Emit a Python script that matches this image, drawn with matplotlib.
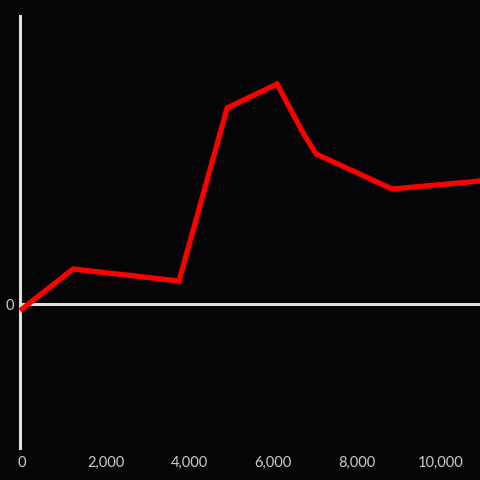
import matplotlib.pyplot as plt

# values (y in arbitrary units, zero line at 0)
xs = [0, 1218, 3753, 4902, 6098, 6720, 7031, 8849, 10950]
ys = [-5, 35, 23, 196, 220, 171, 150, 115, 123]
xticks = [0, 2000, 4000, 6000, 8000, 10000]

bg = '#050407'
fg = '#e0e0e0'

plt.rcParams['font.family'] = ['Lato', 'DejaVu Sans']

fig = plt.figure(figsize=(4.8, 4.8), dpi=100, facecolor=bg)
ax = fig.add_axes([20/480, 32/480, 460/480, 432/480], facecolor=bg)

ax.axhline(0, color=fg, lw=2.2, zorder=1)
ax.plot(xs, ys, color='#ff0000', lw=3.8, solid_joinstyle='miter', zorder=3, clip_on=False)

ax.set_xlim(-50, 10950)
ax.set_ylim(-144, 288)

for s in ['top', 'right', 'bottom']:
    ax.spines[s].set_visible(False)
ax.spines['left'].set_color(fg)
ax.spines['left'].set_linewidth(2.2)

ax.set_xticks(xticks)
ax.set_xticklabels([f'{v:,}' for v in xticks])
ax.set_yticks([0])
ax.set_yticklabels(['0'])
ax.tick_params(colors='#cccccc', labelsize=10.5, length=0)
ax.tick_params(axis='x', pad=6)
ax.tick_params(axis='y', pad=4)

fig.savefig('out.png', dpi=100, facecolor=bg)
